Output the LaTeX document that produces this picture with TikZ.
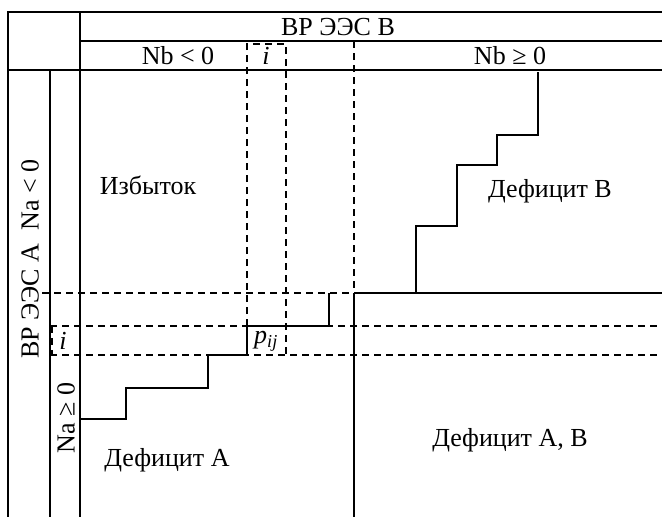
\documentclass[tikz,border=0pt]{standalone}
\usepackage{fontspec}
\setmainfont{Liberation Serif}
\begin{document}
\begin{tikzpicture}[x=1pt,y=-1pt, line width=1.4pt,
  lbl/.style={font=\fontsize{26}{30}\selectfont, inner sep=0pt},
  dsh/.style={dash pattern=on 7pt off 5pt}]
\useasboundingbox (0,0) rectangle (662,517);
% frame
\draw (8,517) -- (8,12) -- (662,12);
\draw (80,12) -- (80,517);
\draw (80,41) -- (662,41);
\draw (8,70) -- (662,70);
\draw (50,70) -- (50,517);
\draw (354,293) -- (354,517);
% dashed grid
\draw[dsh] (42,293) -- (372,293);
\draw[dsh] (50,326) -- (662,326);
\draw[dsh] (50,355) -- (662,355);
\draw[dsh] (52,326) -- (52,355);
\draw[dsh] (354,41) -- (354,293);
\draw[dsh] (247,326) -- (247,44) -- (286,44) -- (286,355);
% staircase B
\draw (538,72) -- (538,135) -- (497,135) -- (497,165) -- (457,165) -- (457,226) -- (416,226) -- (416,293);
\draw (354,293) -- (662,293);
% staircase A
\draw (329,293) -- (329,326) -- (247,326) -- (247,355) -- (208,355) -- (208,388) -- (126,388) -- (126,419) -- (80,419);
% labels
\node[lbl] (hB) at (338,27) {ВР ЭЭС В};
\node[lbl] (nbl) at (178,56) {Nb < 0};
\node[lbl] (nbg) at (510,56) {Nb ≥ 0};
\node[lbl] (ti) at (266,56) {\itshape i};
\node[lbl, rotate=90] (hA) at (30,259) {ВР ЭЭС А\ \ Na < 0};
\node[lbl, rotate=90] (nag) at (66,418) {Na ≥ 0};
\node[lbl] (li) at (63,341) {\itshape i};
\node[lbl] (pij) at (266,341) {\itshape p\textsubscript{ij}};
\node[lbl] (izb) at (148,185) {Избыток};
\node[lbl] (defB) at (550,191) {Дефицит В};
\node[lbl] (defA) at (167,460) {Дефицит А};
\node[lbl] (defAB) at (510,440) {Дефицит А, В};
\end{tikzpicture}
\end{document}
